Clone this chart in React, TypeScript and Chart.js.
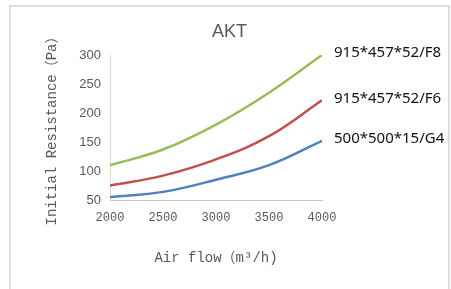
import React, { useEffect, useRef } from "react";
import { Chart, registerables } from "chart.js";

Chart.register(...registerables);

const chartTitle = "AKT";
const airFlow = [2000, 2500, 3000, 3500, 4000];
const seriesNames = ["915*457*52/F8", "915*457*52/F6", "500*500*15/G4"];
const f8Values = [110, 137, 180, 235, 300];
const f6Values = [75, 92, 120, 160, 222];
const g4Values = [55, 64, 85, 110, 152];
const seriesColors = ["#9bbb59", "#c0504d", "#4f81bd"];
const yTicks = [50, 100, 150, 200, 250, 300];
const xTicks = [2000, 2500, 3000, 3500, 4000];

const MONO = "'Liberation Mono', 'Noto Sans CJK SC', monospace";

const decorations = {
  id: "decorations",
  afterDraw(chart: any) {
    const ctx = chart.ctx;
    ctx.save();
    // title
    ctx.font = "18px 'Liberation Sans', Arial, sans-serif";
    ctx.fillStyle = "#595959";
    ctx.textAlign = "center";
    ctx.textBaseline = "middle";
    ctx.fillText(chartTitle, 229.5, 32);
    // series end labels
    ctx.font = "15px 'Noto Sans', sans-serif";
    ctx.fillStyle = "#111";
    ctx.textAlign = "left";
    chart.data.datasets.forEach((ds: any, i: number) => {
      const meta = chart.getDatasetMeta(i);
      const pt = meta.data[meta.data.length - 1];
      if (pt) ctx.fillText(ds.label, pt.x + 12, pt.y - 2);
    });
    ctx.restore();
  },
};

export default function App() {
  const ref = useRef<HTMLCanvasElement>(null);
  useEffect(() => {
    if (!ref.current) return;
    const series = [f8Values, f6Values, g4Values];
    const chart = new Chart(ref.current, {
      type: "line",
      data: {
        datasets: series.map((vals, i) => ({
          label: seriesNames[i],
          data: vals.map((v, j) => ({ x: airFlow[j], y: v })),
          borderColor: seriesColors[i],
          backgroundColor: seriesColors[i],
          borderWidth: 2.5,
          pointRadius: 0,
          tension: 0.4,
          fill: false,
        })),
      },
      options: {
        responsive: false,
        animation: false,
        layout: { padding: { left: 0, right: 129, top: 55, bottom: 0 } },
        plugins: {
          legend: { display: false },
          tooltip: { enabled: false },
          title: { display: false },
        },
        scales: {
          x: {
            type: "linear",
            min: xTicks[0],
            max: xTicks[xTicks.length - 1],
            afterBuildTicks: (s: any) => {
              s.ticks = xTicks.map((v) => ({ value: v }));
            },
            afterFit: (s: any) => {
              s.height = 89;
            },
            grid: { display: false, drawTicks: false },
            border: { display: true, color: "#c8c8c8", width: 1 },
            ticks: {
              color: "#595959",
              padding: 11,
              maxRotation: 0,
              callback: (v: any) => String(v),
              font: { family: MONO, size: 12 },
            },
            title: {
              display: true,
              text: "Air flow（m³/h)",
              color: "#595959",
              font: { family: MONO, size: 14 },
              padding: { top: 24, bottom: 22.6 },
            },
          },
          y: {
            min: yTicks[0],
            max: yTicks[yTicks.length - 1],
            afterBuildTicks: (s: any) => {
              s.ticks = yTicks.map((v) => ({ value: v }));
            },
            afterFit: (s: any) => {
              s.width = 110;
            },
            grid: { display: false, drawTicks: false },
            border: { display: true, color: "#d9d9d9", width: 1 },
            ticks: {
              color: "#595959",
              padding: 9,
              callback: (v: any) => String(v),
              font: { family: "'Liberation Sans', Arial, sans-serif", size: 13 },
            },
            title: {
              display: true,
              text: "Initial Resistance（Pa）",
              color: "#595959",
              font: { family: MONO, size: 14 },
              padding: { top: 44, bottom: 10 },
            },
          },
        },
      },
      plugins: [decorations],
    });
    return () => chart.destroy();
  }, []);

  return (
    <div style={{ position: "fixed", left: 0, top: 0, width: 451, height: 289, background: "#fff", overflow: "hidden" }}>
      <div
        style={{
          position: "absolute",
          left: 9,
          top: 5,
          width: 441,
          height: 300,
          border: "2px solid #dedede",
          boxSizing: "border-box",
        }}
      />
      <canvas ref={ref} width={451} height={289} style={{ position: "absolute", left: 0, top: 0 }} />
    </div>
  );
}
